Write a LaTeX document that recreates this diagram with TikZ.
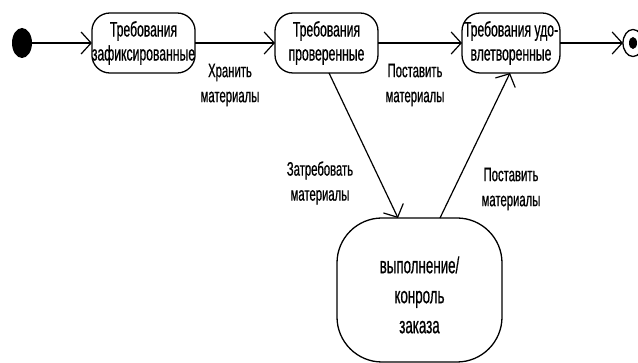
\documentclass[tikz,border=0pt]{standalone}
\usepackage{fontspec}
\setmainfont{Liberation Sans}[FakeStretch=0.58,FakeBold=0.6]
\usetikzlibrary{arrows.meta,shapes.geometric}
\begin{document}
\begin{tikzpicture}[x=1pt,y=-1pt,
  every node/.style={inner sep=0pt, outer sep=0pt},
  statebox/.style={draw, line width=1.3pt, rounded corners=18pt, align=center,
    minimum width=#1, minimum height=60pt, font=\fontsize{21}{24}\selectfont},
  bigbox/.style={draw, line width=1.3pt, rounded corners=45pt,
    minimum width=165pt, minimum height=144pt},
  bigtext/.style={align=center, font=\fontsize{23}{30}\selectfont},
  lbl/.style={align=center, font=\fontsize{19.5}{25}\selectfont},
  trans/.style={draw, line width=1.2pt, -{Straight Barb[length=10pt,width=22pt,line width=1.2pt]}},
]
\clip (0,0) rectangle (638,363);
\fill[white] (0,0) rectangle (638,363);

\node[ellipse, fill=black, minimum width=20pt, minimum height=30pt] (init) at (22,43) {};
\node[statebox=97pt] (b1) at (143.5,43) {Требования\\зафиксированные};
\node[statebox=103pt] (b2) at (326.5,43) {Требования\\проверенные};
\node[statebox=98pt] (b3) at (511,43) {Требования удо-\\влетворенные};
\node[ellipse, draw, line width=1.3pt, minimum width=20pt, minimum height=27pt] (fin) at (633,43) {};
\node[ellipse, fill=black, minimum width=8pt, minimum height=12pt] (finc) at (fin.center) {};
\node[bigbox] (big) at (419.5,290) {};
\node[bigtext] (bigt) at (419.5,295) {выполнение/\\конроль\\заказа};

\draw[trans] (init) -- (b1);
\draw[trans] (b1) -- (b2);
\draw[trans] (b2) -- (b3);
\draw[trans] (b3) -- (fin);
\draw[trans] ([xshift=2.5pt]b2.south) -- ([xshift=-21.5pt]big.north);
\draw[trans] ([xshift=20.5pt]big.north) -- ([xshift=-1pt]b3.south);

\node[lbl] (l1) at (230,85) {Хранить\\материалы};
\node[lbl] (l2) at (415,85) {Поставить\\материалы};
\node[lbl] (l3) at (320,183) {Затребовать\\материалы};
\node[lbl] (l4) at (511,189) {Поставить\\материалы};
\end{tikzpicture}
\end{document}
